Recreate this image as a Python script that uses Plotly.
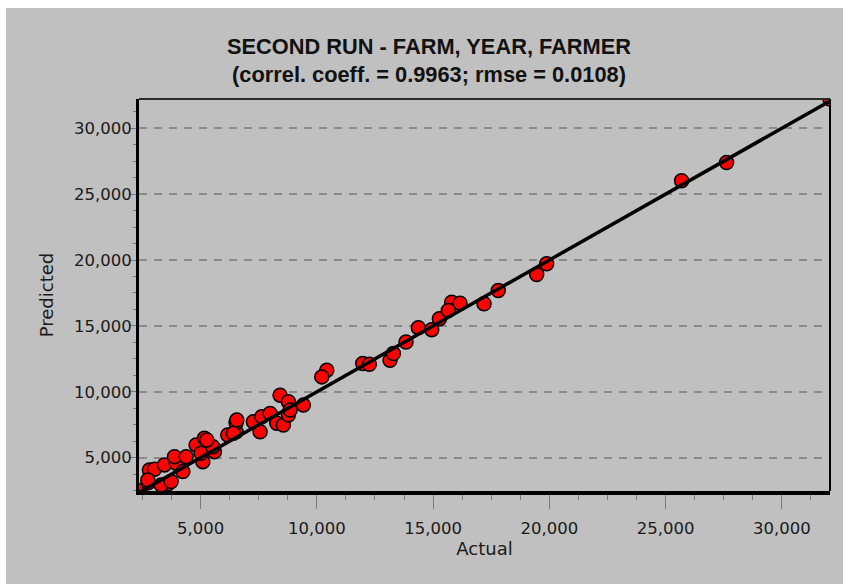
import plotly.graph_objects as go

# Data
actual = [2400, 2743, 3603, 2799, 3014, 3444, 2730, 3302, 3732, 3947, 4235, 3874,
          4807, 5163, 5095, 5021, 5593, 5524, 4377, 6169, 6526, 6526, 6556, 5267,
          6410, 7270, 7631, 7558, 7988, 8276, 8560, 8418, 8775, 8775, 9420, 8848,
          10426, 10211, 11973, 12257, 13147, 13290, 13835, 14364, 14940, 15270,
          15800, 16157, 15654, 17189, 17803, 19454, 19884, 25687, 27622, 32070]
predicted = [2480, 3087, 3012, 4069, 4122, 4448, 3300, 2934, 3184, 4576, 3941, 5076,
             5961, 6468, 4697, 5333, 5454, 5832, 5076, 6718, 6967, 7648, 7853, 6339,
             6846, 7724, 8102, 6967, 8356, 7603, 7474, 9744, 9237, 8231, 8988, 8609,
             11636, 11131, 12143, 12090, 12394, 12900, 13777, 14867, 14715, 15548,
             16804, 16728, 16176, 16683, 17689, 18900, 19710, 26013, 27400, 32220]
fit_line = [2350, 32070]
tick_vals = [5000, 10000, 15000, 20000, 25000, 30000]

title_lines = ["SECOND RUN - FARM, YEAR, FARMER",
               "(correl. coeff. = 0.9963; rmse = 0.0108)"]

BG = "#C0C0C0"
W, H = 843, 584
L, R, T, B = 139, 13, 99, 93
pw, ph = W - L - R, H - T - B

def px2paper_x(px):
    return (px - L) / pw

def px2paper_y(py):
    return (H - B - py) / ph

fig = go.Figure()
fig.add_trace(go.Scatter(x=actual, y=predicted, mode="markers",
                         marker=dict(size=14, color="#FF0000",
                                     line=dict(color="black", width=1.5)),
                         showlegend=False, cliponaxis=True))
fig.add_trace(go.Scatter(x=fit_line, y=fit_line, mode="lines",
                         line=dict(color="black", width=3.5),
                         showlegend=False, cliponaxis=True))

tick_font = dict(family="DejaVu Sans", size=16.5, color="#1a1a1a")
fig.update_layout(
    width=W, height=H,
    margin=dict(l=L, r=R, t=T, b=B, autoexpand=False),
    paper_bgcolor=BG, plot_bgcolor=BG,
    title=dict(text="<br>".join(title_lines), x=429 / W, xanchor="center",
               y=1 - 54 / H, yanchor="middle", yref="container",
               font=dict(family="Liberation Sans, Arial", size=21.8, color="#111",
                         weight="bold")),
    xaxis=dict(range=[2350, 32070], tickvals=tick_vals, tickformat=",d",
               showgrid=False, zeroline=False, showline=True, linecolor="black",
               linewidth=4, ticks="outside", ticklen=14, tickwidth=1,
               tickcolor="#7a7a7a", tickfont=tick_font, ticklabelstandoff=5,
               minor=dict(dtick=1250, tick0=0, ticks="outside", ticklen=5,
                          tickcolor="#7a7a7a", showgrid=False),
               title=dict(text="Actual", standoff=5,
                          font=dict(family="DejaVu Sans", size=18, color="#1a1a1a"))),
    yaxis=dict(range=[2470, 32220], tickvals=tick_vals, tickformat=",d",
               showgrid=True, gridcolor="#8a8a8a", gridwidth=1.5, griddash="8px,7px",
               zeroline=False, showline=True, linecolor="black",
               linewidth=3, ticks="outside", ticklen=7, tickwidth=1,
               tickcolor="#7a7a7a", tickfont=tick_font, ticklabelstandoff=-6,
               minor=dict(dtick=1250, tick0=0, ticks="outside", ticklen=3,
                          tickcolor="#7a7a7a", showgrid=False),
               title=dict(text="Predicted", standoff=16,
                          font=dict(family="DejaVu Sans", size=18, color="#1a1a1a"))),
    shapes=[
        # white strips on top and left of the chart frame
        dict(type="rect", xref="paper", yref="paper", layer="below",
             x0=px2paper_x(0), x1=px2paper_x(W), y0=px2paper_y(8), y1=px2paper_y(0),
             fillcolor="white", line=dict(width=0)),
        dict(type="rect", xref="paper", yref="paper", layer="below",
             x0=px2paper_x(0), x1=px2paper_x(6), y0=px2paper_y(H), y1=px2paper_y(0),
             fillcolor="white", line=dict(width=0)),
        # top and right plot border
        dict(type="line", xref="paper", yref="paper", x0=0, x1=1, y0=1, y1=1,
             line=dict(color="#2a2a2a", width=2)),
        dict(type="line", xref="paper", yref="paper", x0=1, x1=1, y0=0, y1=1,
             line=dict(color="black", width=2)),
    ],
)

fig.write_html("out.html",
               config={"displayModeBar": False},
               post_script="document.body.style.margin='0';"
                           "document.body.style.overflow='hidden';")
